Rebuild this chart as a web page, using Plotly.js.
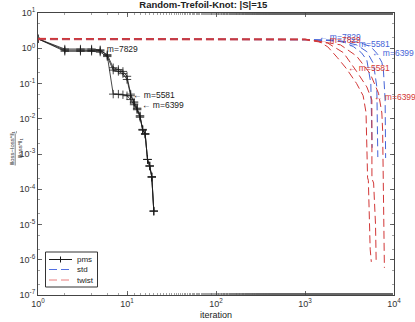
<!DOCTYPE html>
<html><head><meta charset="utf-8">
<script src="https://cdn.plot.ly/plotly-3.0.1.min.js"></script>
<style>html,body{margin:0;padding:0;background:#fff}#chart{width:415px;height:322px}</style>
</head><body><div id="chart"></div>
<script>
// ---- data ----
const pmsIter = [1,2,3,4,5,6,7,8,9,10,11,12,13,14,15,16,17,18,19,20];
const pms5581 = [1.85,0.95,0.95,0.95,0.90,0.62,0.050,0.050,0.048,0.045,0.035,0.025,0.018,0.011,0.0048,0.0038,0.0007,0.00046,0.00023,0.000024];
const pms6399 = [1.85,0.82,0.82,0.82,0.78,0.58,0.24,0.22,0.19,0.13,0.045,0.028,0.019,0.012,0.0048,0.0036,0.0007,0.00046,0.00022,0.000024];
const pms7829 = [1.85,0.88,0.88,0.88,0.85,0.66,0.28,0.25,0.22,0.16,0.050,0.030,0.020,0.012,0.0050,0.0037,0.0007,0.00045,0.00022,0.000024];

const std5581Iter = [1,1000,2071,2800,3501,4300,4953,5490,5680];
const std5581Val  = [1.85,1.78,1.71,1.45,1.11,0.75,0.46,0.101,0.0015];
const std6399Iter = [1,1000,2500,3824,4953,5873,6411,6580];
const std6399Val  = [1.85,1.78,1.6,1.24,0.80,0.37,0.081,0.00082];
const std7829Iter = [1,1000,4000,5500,6411,7300,7606,7950,8050];
const std7829Val  = [1.85,1.78,1.5,1.1,0.72,0.40,0.24,0.034,0.00077];

const tw5581Iter = [1,1000,1400,1800,2300,2900,3800,4500,4850,4950,5050,5150,5400,5560];
const tw5581Val  = [1.9,1.8,1.6,1.1,0.55,0.27,0.10,0.045,0.015,0.0013,0.00021,0.00018,0.000002,0.00000087];
const tw6399Iter = [1,1000,1800,2700,3800,4950,5640,5650,5900,6200,6300];
const tw6399Val  = [1.75,1.72,1.4,0.75,0.22,0.08,0.034,0.0002,0.00015,0.00001,0.00000098];
const tw7829Iter = [1,1000,2500,3800,5400,6700,7300,7450,7800];
const tw7829Val  = [1.9,1.82,1.25,0.6,0.19,0.053,0.0146,0.0048,0.00000059];

// labels
const pmsLabelIter = [4.3, 11.2, 14.1];
const pmsLabelVal  = [0.98, 0.047, 0.024];
const pmsLabelText = ['m=7829','m=5581','m=6399'];
const stdLabelIter = [1370, 2880, 5393];
const stdLabelVal  = [2.05, 1.32, 0.72];
const stdLabelText = ['m=7829','m=5581','m=6399'];
const twLabelIter  = [1370, 2880, 5630];
const twLabelVal   = [1.75, 0.275, 0.042];
const twLabelText  = ['m=7829','m=5581','m=6399'];

const legendNames = ['pms','std','twist'];

const xTicks = [1,10,100,1000,10000];
const xTickText = ['10<sup>0</sup>','10<sup>1</sup>','10<sup>2</sup>','10<sup>3</sup>','10<sup>4</sup>'];
const yTicks = [1e1,1e0,1e-1,1e-2,1e-3,1e-4,1e-5,1e-6,1e-7];
const yTickText = ['10<sup>1</sup>','10<sup>0</sup>','10<sup>-1</sup>','10<sup>-2</sup>','10<sup>-3</sup>','10<sup>-4</sup>','10<sup>-5</sup>','10<sup>-6</sup>','10<sup>-7</sup>'];

// ---- styles ----
const BLACK = '#1a1a1a';
const BLUE = 'rgb(70,100,215)';
const RED = 'rgb(210,55,55)';
const LBLUE = 'rgb(80,110,225)';
const LRED = 'rgb(232,125,125)';
const FONT = 'Liberation Sans, Arial, sans-serif';
const DASH = '8px,4px';

const traces = [];
[pms5581, pms6399, pms7829].forEach(v => {
  traces.push({x: pmsIter, y: v, type:'scatter', mode:'lines+markers', name:'pms', showlegend:false,
    line:{color:BLACK, width:0.8},
    marker:{symbol:'cross-thin', size:6, line:{color:BLACK, width:0.8}}});
});
[[std5581Iter,std5581Val],[std6399Iter,std6399Val],[std7829Iter,std7829Val]].forEach(([x,y]) => {
  traces.push({x:x, y:y, type:'scatter', mode:'lines', name:'std', showlegend:false,
    line:{color:BLUE, width:1, dash:DASH}});
});
[[tw5581Iter,tw5581Val],[tw6399Iter,tw6399Val],[tw7829Iter,tw7829Val]].forEach(([x,y]) => {
  traces.push({x:x, y:y, type:'scatter', mode:'lines', name:'twist', showlegend:false,
    line:{color:RED, width:1, dash:DASH}});
});

const annotations = [];
function addLabels(iters, vals, texts, color) {
  for (let k = 0; k < iters.length; k++) {
    annotations.push({x: Math.log10(iters[k]), y: Math.log10(vals[k]), xref:'x', yref:'y',
      text: '\u2190 ' + texts[k], showarrow:false, xanchor:'left', yanchor:'middle',
      font:{family:FONT, size:8.5, color:color}});
  }
}
addLabels(pmsLabelIter, pmsLabelVal, pmsLabelText, BLACK);
addLabels(stdLabelIter, stdLabelVal, stdLabelText, BLUE);
addLabels(twLabelIter, twLabelVal, twLabelText, RED);
annotations.push({xref:'paper', yref:'paper', x:-0.088, y:0.52, textangle:-90, showarrow:false,
  text:'<span style="text-decoration:underline">\u2016loss\u2212loss*\u2016<sub>1</sub></span><br>\u2016loss*\u2016<sub>1</sub>',
  font:{family:FONT, size:6, color:'#333'}});

// ---- hand-built compact legend (pixel-based positions converted to paper) ----
const PL = 38, PW = 356, PB = 295, PH = 282;
const px = v => (v - PL) / PW;
const py = v => (PB - v) / PH;
const shapes = [];
shapes.push({type:'rect', xref:'paper', yref:'paper', x0:px(45.5), x1:px(97.5), y0:py(287), y1:py(252),
  line:{color:'#333', width:1}, fillcolor:'#fff', layer:'above'});
const rowY = [259.5, 269.5, 280];
const rowStyle = [{color:BLACK, dash:'solid'}, {color:LBLUE, dash:DASH}, {color:LRED, dash:DASH}];
rowY.forEach((yy, k) => {
  shapes.push({type:'line', xref:'paper', yref:'paper', x0:px(49), x1:px(72), y0:py(yy), y1:py(yy),
    line:{color:rowStyle[k].color, width:1, dash:rowStyle[k].dash}, layer:'above'});
  annotations.push({xref:'paper', yref:'paper', x:px(75), y:py(yy), xanchor:'left', yanchor:'middle',
    text:legendNames[k], showarrow:false, font:{family:FONT, size:8, color:'#222'}});
});
shapes.push({type:'line', xref:'paper', yref:'paper', x0:px(60.5), x1:px(60.5), y0:py(rowY[0]-3), y1:py(rowY[0]+3),
  line:{color:BLACK, width:1}, layer:'above'});

const axisCommon = {
  type:'log', showgrid:false, zeroline:false, showline:true, linecolor:'#444', linewidth:1,
  mirror:'allticks', ticks:'inside', ticklen:4, tickcolor:'#444', tickwidth:0.8,
  tickfont:{family:FONT, size:9, color:'#333'},
  minor:{ticks:'inside', ticklen:2, tickcolor:'#666', tickwidth:0.6, showgrid:false}
};

const layout = {
  width:415, height:322,
  margin:{l:38, r:21, t:13, b:27},
  paper_bgcolor:'#fff', plot_bgcolor:'#fff',
  font:{family:FONT, color:'#222'},
  title:{text:'<b>Random-Trefoil-Knot: |S|=15</b>', font:{family:FONT, size:9.5, color:'#222'},
    x:0.49, xanchor:'center', y:0.985, yanchor:'middle'},
  xaxis: Object.assign({}, axisCommon, {range:[0,4], tickvals:xTicks, ticktext:xTickText,
    title:{text:'iteration', font:{family:FONT, size:9, color:'#222'}, standoff:3}}),
  yaxis: Object.assign({}, axisCommon, {range:[-7,1], tickvals:yTicks, ticktext:yTickText}),
  showlegend:false,
  annotations: annotations,
  shapes: shapes
};

Plotly.newPlot('chart', traces, layout, {displayModeBar:false, staticPlot:true});
</script>
</body></html>
